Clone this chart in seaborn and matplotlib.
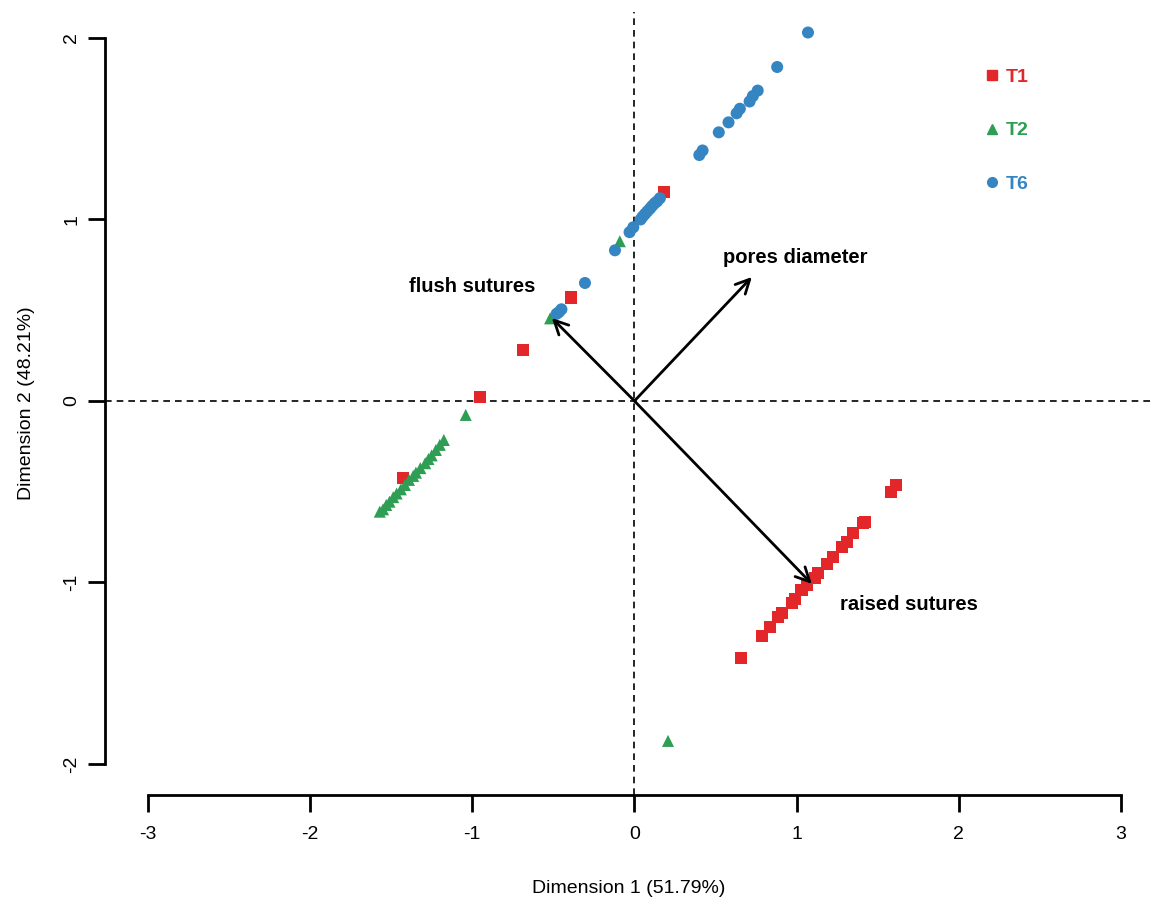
import matplotlib
matplotlib.use("Agg")
import matplotlib.pyplot as plt
from matplotlib.lines import Line2D
import seaborn as sns
import pandas as pd

# ---- data -------------------------------------------------------------
groups = ["T1", "T2", "T6"]
colors = {"T1": "#E3262A", "T2": "#2E9E55", "T6": "#3585C2"}
markers = {"T1": "s", "T2": "^", "T6": "o"}

t1_x = [0.18, -0.39, -0.685, -0.95, -1.425, 1.61, 1.58, 1.42, 1.41, 1.35, 1.31,
        1.277, 1.226, 1.185, 1.133, 1.113, 1.065, 1.03, 0.99, 0.97, 0.907, 0.887,
        0.835, 0.784, 0.655]
t1_y = [1.15, 0.57, 0.28, 0.02, -0.426, -0.463, -0.50, -0.665, -0.674, -0.73, -0.775,
        -0.806, -0.858, -0.898, -0.95, -0.977, -1.014, -1.04, -1.093, -1.115, -1.166, -1.188,
        -1.243, -1.295, -1.418]

t2_x = [-0.09, -0.52, -1.04, 0.207, -1.175, -1.20, -1.224, -1.25, -1.27, -1.29, -1.32,
        -1.347, -1.364, -1.39, -1.415, -1.44, -1.466, -1.487, -1.51, -1.53, -1.55, -1.57]
t2_y = [0.88, 0.455, -0.077, -1.873, -0.215, -0.242, -0.27, -0.30, -0.32, -0.343, -0.37,
        -0.395, -0.413, -0.435, -0.463, -0.487, -0.51, -0.53, -0.555, -0.573, -0.597, -0.61]

t6_x = [1.07, 0.88, 0.76, 0.73, 0.71, 0.65, 0.63, 0.58, 0.52, 0.42, 0.40, 0.157, 0.14,
        0.126, 0.11, 0.096, 0.08, 0.065, 0.05, 0.038, -0.007, -0.03, -0.12, -0.305, -0.45,
        -0.465, -0.48]
t6_y = [2.03, 1.84, 1.71, 1.68, 1.65, 1.61, 1.585, 1.535, 1.48, 1.38, 1.355, 1.117, 1.10,
        1.09, 1.075, 1.06, 1.045, 1.03, 1.015, 1.0, 0.957, 0.93, 0.83, 0.65, 0.505,
        0.49, 0.48]

var_names = ["pores diameter", "flush sutures", "raised sutures"]
var_x = [0.724, -0.509, 1.094]
var_y = [0.683, 0.457, -1.008]
label_x = [0.99, -1.0, 1.69]
label_y = [0.79, 0.63, -1.12]

xlabel = "Dimension 1 (51.79%)"
ylabel = "Dimension 2 (48.21%)"
xticks = [-3, -2, -1, 0, 1, 2, 3]
yticks = [-2, -1, 0, 1, 2]

# ---- frame ------------------------------------------------------------
df = pd.concat([
    pd.DataFrame({"x": t1_x, "y": t1_y, "group": "T1"}),
    pd.DataFrame({"x": t2_x, "y": t2_y, "group": "T2"}),
    pd.DataFrame({"x": t6_x, "y": t6_y, "group": "T6"}),
], ignore_index=True)

sns.set_style("white")
plt.rcParams["font.family"] = ["Liberation Sans", "DejaVu Sans"]
plt.rcParams["text.color"] = "black"
plt.rcParams["axes.labelcolor"] = "black"
plt.rcParams["xtick.color"] = "black"
plt.rcParams["ytick.color"] = "black"

fig = plt.figure(figsize=(11.53, 9.0), dpi=100)
ax = fig.add_axes([105 / 1153, 105 / 900, 1048 / 1153, 783 / 900])

ax.axhline(0, color="black", ls=(0, (4, 3)), lw=1.2, zorder=1)
ax.axvline(0, color="black", ls=(0, (4, 3)), lw=1.2, zorder=1)

sns.scatterplot(data=df, x="x", y="y", hue="group", style="group",
                palette=colors, markers=markers, hue_order=groups, style_order=groups,
                s=75, linewidth=0, legend=False, ax=ax, zorder=3)

for name, vx, vy, lx, ly in zip(var_names, var_x, var_y, label_x, label_y):
    ax.annotate("", xy=(vx, vy), xytext=(0, 0),
                arrowprops=dict(arrowstyle="->,head_length=1.0,head_width=0.5",
                                color="black", lw=2, shrinkA=0, shrinkB=0),
                zorder=4)
    ax.text(lx, ly, name, fontsize=14.5, fontweight="bold", ha="center", va="center",
            color="black", zorder=5)

ax.set_xlim(-3.264, 3.197)
ax.set_ylim(-2.171, 2.143)

sns.despine(ax=ax, top=True, right=True)
ax.spines["left"].set_bounds(-2, 2)
ax.spines["bottom"].set_bounds(-3, 3)
for sp in ("left", "bottom"):
    ax.spines[sp].set_linewidth(2)
    ax.spines[sp].set_color("black")

ax.set_xticks(xticks)
ax.set_yticks(yticks)
ax.set_xticklabels([str(t) for t in xticks])
ax.set_yticklabels([str(t) for t in yticks], rotation=90, va="center")
ax.tick_params(axis="both", direction="out", length=12, width=2, color="black",
               labelsize=14, labelcolor="black", left=True, bottom=True)
ax.tick_params(axis="x", pad=10)
ax.tick_params(axis="y", pad=6)

ax.set_xlabel(xlabel, fontsize=14, labelpad=27)
ax.set_ylabel(ylabel, fontsize=14, labelpad=20)

handles = [Line2D([], [], marker=markers[g], color=colors[g], ls="", markersize=7)
           for g in groups]
leg = ax.legend(handles, groups, loc="upper left", bbox_to_anchor=(2.06, 1.93),
                bbox_transform=ax.transData, frameon=False, handlelength=0.6,
                handletextpad=0.4, labelspacing=1.85,
                prop={"size": 14, "weight": "bold"}, labelcolor="markerfacecolor")

fig.savefig("out.png", dpi=100)
